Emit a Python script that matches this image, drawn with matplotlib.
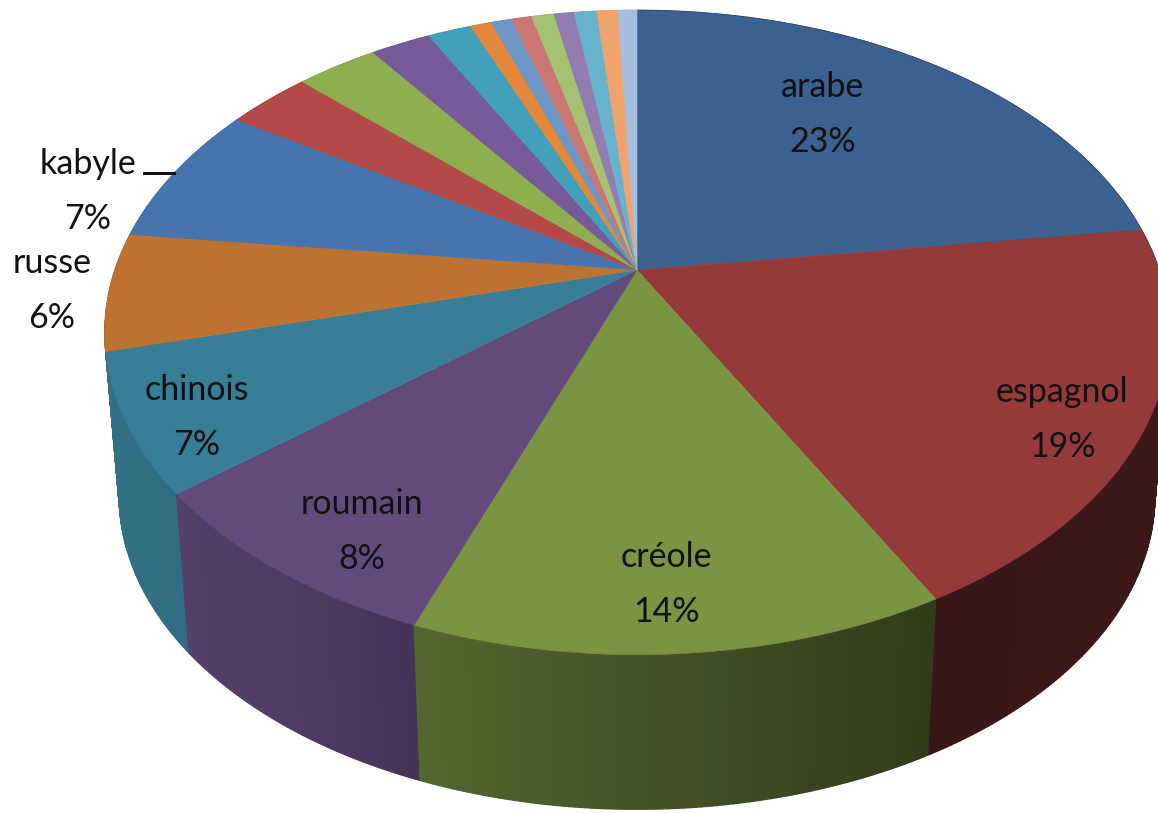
import numpy as np
import matplotlib
matplotlib.use("Agg")
import matplotlib.pyplot as plt

# parts of each slice (clockwise from the top)
labels = ["arabe", "espagnol", "créole", "roumain", "chinois", "russe", "kabyle"]
label_pct = ["23%", "19%", "14%", "8%", "7%", "6%", "7%"]
valeurs = [22.9, 19.25, 13.55, 8.4, 6.9, 5.9, 7.1, 3.1, 3.0, 2.2, 1.6,
           0.78, 0.75, 0.75, 0.83, 0.74, 0.82, 0.77, 0.7]
couleurs = ["#3b6191", "#943a3a", "#7a9442", "#634a7c", "#387e97", "#be7230",
            "#4674ae", "#b44a47", "#8eae50", "#775a98", "#42a0bb", "#e3873a",
            "#6c96c6", "#c97572", "#a5c273", "#937cb0", "#68b3cc", "#f0a36c",
            "#a5bede"]

# shape of the pie in pixels
cx, cy = 637, 270
rx, ry = 522, 310
k = 0.194  # perspective
prof = 165  # height of the wall
ech = 0.973  # the lower rim is a bit smaller


def rim(ang, bas=False):
    # angle in degrees, clockwise from the top
    a = np.radians(ang)
    w = 1 / (1 + k * np.cos(a))
    x = rx * np.sin(a) * w
    y = -ry * np.cos(a) * w
    if bas:
        return cx + ech * x, cy + ech * y + prof
    return cx + x, cy + y


def ombre(ang):
    # the wall gets darker towards the right
    return np.interp(ang, [0, 100, 151, 200, 210, 235, 270, 360],
                     [0.42, 0.42, 0.39, 0.69, 0.78, 0.88, 0.9, 0.9])


fig = plt.figure(figsize=(11.58, 8.13), dpi=100)
ax = fig.add_axes([0, 0, 1, 1])
ax.set_xlim(0, 1158)
ax.set_ylim(813, 0)
ax.axis("off")

fins = 360 * np.cumsum(valeurs) / np.sum(valeurs)
debuts = np.concatenate([[0], fins[:-1]])

# wall, thin strips from the back to the front
bandes = []
for d, f, c in zip(debuts, fins, couleurs):
    bords = np.append(np.arange(d, f, 0.5), f)
    for a1, a2 in zip(bords[:-1], bords[1:]):
        bandes.append((a1, a2, c))
bandes.sort(key=lambda b: rim((b[0] + b[1]) / 2)[1])

for a1, a2, c in bandes:
    x1, y1 = rim(a1)
    x2, y2 = rim(a2)
    x3, y3 = rim(a2, True)
    x4, y4 = rim(a1, True)
    rgb = np.array(matplotlib.colors.to_rgb(c)) * ombre((a1 + a2) / 2)
    ax.fill([x1, x2, x3, x4], [y1, y2, y3, y4], color=rgb, lw=1.0, zorder=2)

# top of the pie
for d, f, c in zip(debuts, fins, couleurs):
    angs = np.linspace(d, f, 80)
    xs, ys = rim(angs)
    ax.fill(np.r_[cx, xs], np.r_[cy, ys], color=c, lw=0.4, zorder=3)

police = ["Lato", "DejaVu Sans"]
pos_x = [823, 1062, 666, 362, 197, 52, 88]
pos_y = [87, 392, 557, 504, 390, 263, 164]
coul_txt = "#111111"
for nom, pct, x, y in zip(labels, label_pct, pos_x, pos_y):
    ax.text(x, y, nom, ha="center", va="center", fontsize=24.5, family=police,
            color=coul_txt, zorder=5)
    ax.text(x, y + 55, pct, ha="center", va="center", fontsize=24.5, family=police,
            color=coul_txt, zorder=5)

# leader line of kabyle
ax.plot([144, 174], [173, 173], color="#111111", lw=2.2, zorder=5)

fig.savefig("out.png", dpi=100)
